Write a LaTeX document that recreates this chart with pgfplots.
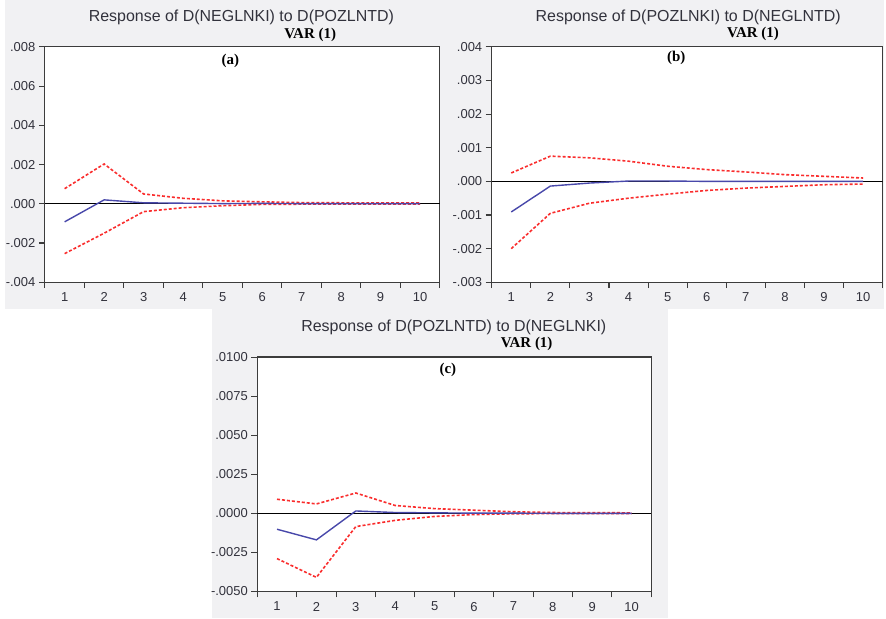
\documentclass[border=0pt]{standalone}
\usepackage{fontspec}
\setmainfont{Liberation Sans}
\newfontfamily\timesfont{Liberation Serif}
\usepackage{pgfplots}
\pgfplotsset{compat=1.18}
\definecolor{panelgray}{RGB}{241,241,243}
\definecolor{irfblue}{RGB}{72,72,170}
\definecolor{bandred}{RGB}{250,45,45}
\definecolor{ticktext}{RGB}{50,50,60}
\definecolor{frame}{RGB}{60,60,60}

\pgfplotsset{irf/.style={
  scale only axis, anchor=south west,
  xmin=0.5, xmax=10.5,
  xtick={0.5,1.5,...,10.5},
  xticklabels={},
  extra x ticks={1,2,3,4,5,6,7,8,9,10},
  extra x tick labels={1,2,3,4,5,6,7,8,9,10},
  extra x tick style={xtick style={draw=none}},
  tick align=outside,
  xtick pos=left, ytick pos=left,
  major tick length=6pt,
  tick style={color=frame, line width=1.1pt},
  axis line style={frame, line width=1.2pt},
  axis background/.style={fill=white},
  scaled y ticks=false,
  /pgf/number format/assume math mode=true,
  ticklabel style={font=\fontsize{13}{15}\selectfont, text=ticktext},
  xticklabel style={yshift=-1pt},
},
resp/.style={irfblue, line width=1.4pt},
band/.style={bandred, line width=1.6pt, dash pattern=on 3pt off 2pt},
zero/.style={black, line width=1pt}}

\begin{document}
\begin{tikzpicture}[x=1pt,y=1pt]
\fill[white] (0pt,0pt) rectangle (886pt,620pt);
\fill[panelgray] (5pt,310pt) rectangle (886pt,620pt);
\fill[panelgray] (213pt,0pt) rectangle (670pt,310pt);

% ---------- (a)
\begin{axis}[irf, at={(45pt,337pt)}, width=396pt, height=236pt,
  ymin=-0.004, ymax=0.008,
  ytick={-0.004,-0.002,0,0.002,0.004,0.006,0.008},
  yticklabels={-.004,-.002,.000,.002,.004,.006,.008}]
\addplot[zero] coordinates {(0.5,0) (10.5,0)};
\addplot[band] coordinates {(1,0.00077) (2,0.00203) (3,0.0005) (4,0.00028) (5,0.00015) (6,0.0001) (7,0.00006) (8,0.00005) (9,0.00004) (10,0.00004)};
\addplot[band] coordinates {(1,-0.00254) (2,-0.0015) (3,-0.0004) (4,-0.0002) (5,-0.0001) (6,-0.00003) (7,-0.00002) (8,-0.00002) (9,-0.00002) (10,-0.00002)};
\addplot[resp] coordinates {(1,-0.00092) (2,0.0002) (3,0.00005) (4,0.00003) (5,0.00001) (6,0.00002) (7,0.00001) (8,0.00001) (9,0.00001) (10,0.00001)};
\end{axis}
\node[font=\fontsize{16}{18}\selectfont, text=ticktext] at (242pt,603pt) {Response of D(NEGLNKI) to D(POZLNTD)};
\node[font=\timesfont\bfseries\fontsize{15}{17}\selectfont] at (311pt,585pt) {VAR (1)};
\node[font=\timesfont\bfseries\fontsize{15}{17}\selectfont] at (231pt,559pt) {(a)};

% ---------- (b)
\begin{axis}[irf, at={(493pt,337pt)}, width=392pt, height=236pt,
  ymin=-0.003, ymax=0.004,
  ytick={-0.003,-0.002,-0.001,0,0.001,0.002,0.003,0.004},
  yticklabels={-.003,-.002,-.001,.000,.001,.002,.003,.004}]
\addplot[zero] coordinates {(0.5,0) (10.5,0)};
\addplot[band] coordinates {(1,0.00025) (2,0.00075) (3,0.0007) (4,0.0006) (5,0.00045) (6,0.00035) (7,0.00028) (8,0.0002) (9,0.00015) (10,0.0001)};
\addplot[band] coordinates {(1,-0.002) (2,-0.00095) (3,-0.00065) (4,-0.0005) (5,-0.00038) (6,-0.00027) (7,-0.0002) (8,-0.00015) (9,-0.0001) (10,-0.00008)};
\addplot[resp] coordinates {(1,-0.00091) (2,-0.00014) (3,-0.00005) (4,0.00001) (5,0.00001) (6,0) (7,0) (8,0) (9,0) (10,0)};
\end{axis}
\node[font=\fontsize{16}{18}\selectfont, text=ticktext] at (690pt,603pt) {Response of D(POZLNKI) to D(NEGLNTD)};
\node[font=\timesfont\bfseries\fontsize{15}{17}\selectfont] at (755pt,586pt) {VAR (1)};
\node[font=\timesfont\bfseries\fontsize{15}{17}\selectfont] at (678pt,562pt) {(b)};

% ---------- (c)
\begin{axis}[irf, at={(258pt,27pt)}, width=395pt, height=235pt,
  ymin=-0.005, ymax=0.01,
  ytick={-0.005,-0.0025,0,0.0025,0.005,0.0075,0.01},
  yticklabels={-.0050,-.0025,.0000,.0025,.0050,.0075,.0100}]
\addplot[zero] coordinates {(0.5,0) (10.5,0)};
\addplot[band] coordinates {(1,0.0009) (2,0.0006) (3,0.0013) (4,0.0005) (5,0.0003) (6,0.0002) (7,0.0001) (8,0.00005) (9,0.00004) (10,0.00003)};
\addplot[band] coordinates {(1,-0.0029) (2,-0.0041) (3,-0.00085) (4,-0.00045) (5,-0.0002) (6,-0.00008) (7,-0.00003) (8,-0.00002) (9,-0.00002) (10,-0.00001)};
\addplot[resp] coordinates {(1,-0.00102) (2,-0.0017) (3,0.00015) (4,0.00005) (5,0.00003) (6,0.00001) (7,0.00001) (8,0) (9,0) (10,0)};
\end{axis}
\node[font=\fontsize{16}{18}\selectfont, text=ticktext] at (455pt,292pt) {Response of D(POZLNTD) to D(NEGLNKI)};
\node[font=\timesfont\bfseries\fontsize{15}{17}\selectfont] at (528pt,275pt) {VAR (1)};
\node[font=\timesfont\bfseries\fontsize{15}{17}\selectfont] at (449pt,249pt) {(c)};
\end{tikzpicture}
\end{document}
